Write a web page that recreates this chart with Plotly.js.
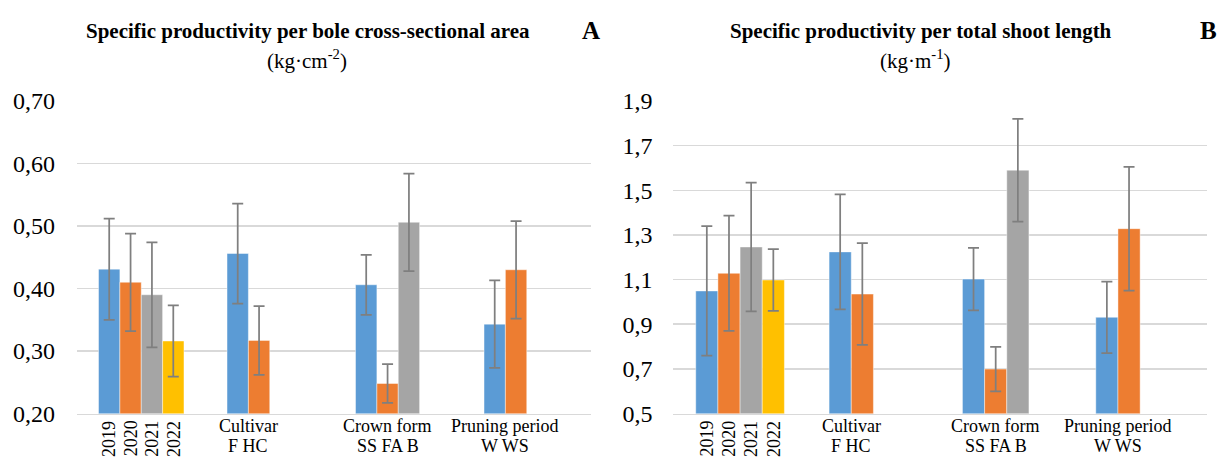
<!DOCTYPE html>
<html>
<head>
<meta charset="utf-8">
<script src="https://cdn.plot.ly/plotly-3.0.1.min.js"></script>
<style>
html,body{margin:0;padding:0;background:#fff;}
#chart{width:1217px;height:458px;}
</style>
</head>
<body>
<div id="chart"></div>
<script>
// ---- data ----
const categories = ['Year', 'Cultivar', 'Crown form', 'Pruning period'];
const yearLabels = ['2019', '2020', '2021', '2022'];
const groupLine1 = ['', 'Cultivar', 'Crown form', 'Pruning period'];
const groupLine2 = ['', 'F HC', 'SS FA B', 'W WS'];

// Panel A: specific productivity per bole cross-sectional area (kg·cm-2)
const A_s1 = [0.431, 0.456, 0.406, 0.343];
const A_s2 = [0.410, 0.317, 0.248, 0.430];
const A_s3 = [0.390, null, 0.506, null];
const A_s4 = [0.316, null, null, null];
const A_e1 = [0.081, 0.080, 0.048, 0.070];
const A_e2 = [0.078, 0.055, 0.031, 0.078];
const A_e3 = [0.084, null, 0.078, null];
const A_e4 = [0.057, null, null, null];

// Panel B: specific productivity per total shoot length (kg·m-1)
const B_s1 = [1.049, 1.224, 1.102, 0.931];
const B_s2 = [1.128, 1.035, 0.699, 1.328];
const B_s3 = [1.246, null, 1.590, null];
const B_s4 = [1.098, null, null, null];
const B_e1 = [0.290, 0.258, 0.140, 0.160];
const B_e2 = [0.258, 0.228, 0.100, 0.277];
const B_e3 = [0.288, null, 0.230, null];
const B_e4 = [0.138, null, null, null];

const colors = ['#5B9BD5', '#ED7D31', '#A5A5A5', '#FFC000'];
const FONT = 'Liberation Serif';
const BARGAP = 0.335;

function mkTraces(series, errs, xa, ya) {
  return series.map((s, k) => ({
    type: 'bar',
    x: categories,
    y: s,
    xaxis: xa, yaxis: ya,
    marker: {color: colors[k], line: {color: 'rgba(255,255,255,0.55)', width: 0.8}},
    error_y: {type: 'data', array: errs[k], visible: true, color: '#7f7f7f', thickness: 1.75, width: 5.5},
    showlegend: false,
    hoverinfo: 'y'
  }));
}

const traces = [
  ...mkTraces([A_s1, A_s2, A_s3, A_s4], [A_e1, A_e2, A_e3, A_e4], 'x', 'y'),
  ...mkTraces([B_s1, B_s2, B_s3, B_s4], [B_e1, B_e2, B_e3, B_e4], 'x2', 'y2')
];

// ---- category labels as annotations ----
const nSlots = 4;
const slotW = (1 - BARGAP) / nSlots;
function slotOffset(k) { return (k - (nSlots - 1) / 2) * slotW; }

function labelAnnotations(xref, seriesList) {
  const ann = [];
  yearLabels.forEach((t, k) => {
    ann.push({xref: xref, yref: 'paper', x: 0 + slotOffset(k), y: 0.042,
      text: t, textangle: -90, showarrow: false, xanchor: 'center', yanchor: 'middle',
      font: {family: FONT, size: 18, color: '#000'}});
  });
  for (let i = 1; i < categories.length; i++) {
    const present = [];
    seriesList.forEach((s, k) => { if (s[i] !== null) present.push(slotOffset(k)); });
    const cx = i + present.reduce((a, b) => a + b, 0) / present.length;
    ann.push({xref: xref, yref: 'paper', x: cx, y: 0.0705, text: groupLine1[i],
      showarrow: false, xanchor: 'center', yanchor: 'middle',
      font: {family: FONT, size: 18, color: '#000'}});
    ann.push({xref: xref, yref: 'paper', x: cx, y: 0.0262, text: groupLine2[i],
      showarrow: false, xanchor: 'center', yanchor: 'middle',
      font: {family: FONT, size: 18, color: '#000'}});
  }
  return ann;
}

function py(px) { return (458 - px) / 458; }

const annotations = [
  ...labelAnnotations('x', [A_s1, A_s2, A_s3, A_s4]),
  ...labelAnnotations('x2', [B_s1, B_s2, B_s3, B_s4]),
  {xref: 'paper', yref: 'paper', x: 307.5 / 1217, y: py(30.5), showarrow: false,
   text: '<b>Specific productivity per bole cross-sectional area</b>',
   font: {family: FONT, size: 21, color: '#000'}, xanchor: 'center', yanchor: 'middle'},
  {xref: 'paper', yref: 'paper', x: 306.5 / 1217, y: py(59), showarrow: false,
   text: '(kg·cm<sup>-2</sup>)',
   font: {family: FONT, size: 21, color: '#000'}, xanchor: 'center', yanchor: 'middle'},
  {xref: 'paper', yref: 'paper', x: 920.5 / 1217, y: py(30.5), showarrow: false,
   text: '<b>Specific productivity per total shoot length</b>',
   font: {family: FONT, size: 21, color: '#000'}, xanchor: 'center', yanchor: 'middle'},
  {xref: 'paper', yref: 'paper', x: 915.5 / 1217, y: py(59), showarrow: false,
   text: '(kg·m<sup>-1</sup>)',
   font: {family: FONT, size: 21, color: '#000'}, xanchor: 'center', yanchor: 'middle'},
  {xref: 'paper', yref: 'paper', x: 590.5 / 1217, y: py(31), showarrow: false,
   text: '<b>A</b>', font: {family: FONT, size: 25, color: '#000'}, xanchor: 'center', yanchor: 'middle'},
  {xref: 'paper', yref: 'paper', x: 1208 / 1217, y: py(31), showarrow: false,
   text: '<b>B</b>', font: {family: FONT, size: 25, color: '#000'}, xanchor: 'center', yanchor: 'middle'}
];

const yDomain = [(458 - 413.5) / 458, (458 - 101) / 458];
const gridColor = '#D9D9D9';

const layout = {
  width: 1217, height: 458,
  margin: {l: 0, r: 0, t: 0, b: 0},
  paper_bgcolor: '#fff', plot_bgcolor: '#fff',
  separators: ', ',
  barmode: 'group',
  bargap: BARGAP,
  bargroupgap: 0,
  font: {family: FONT, color: '#000'},
  xaxis: {domain: [77 / 1217, 591 / 1217], type: 'category', showticklabels: false,
    showline: true, linecolor: gridColor, linewidth: 1.5, showgrid: false, ticks: '', fixedrange: true},
  xaxis2: {domain: [673.4 / 1217, 1206.8 / 1217], type: 'category', showticklabels: false,
    showline: true, linecolor: gridColor, linewidth: 1.5, showgrid: false, ticks: '', fixedrange: true},
  yaxis: {domain: yDomain, range: [0.2, 0.7], tick0: 0.2, dtick: 0.1, tickformat: '.2f',
    showgrid: true, gridcolor: gridColor, gridwidth: 1.5, zeroline: false, showline: false,
    ticks: '', ticklabelstandoff: 21, tickfont: {family: FONT, size: 24, color: '#000'}},
  yaxis2: {domain: yDomain, range: [0.5, 1.9], tick0: 0.5, dtick: 0.2, tickformat: '.1f',
    anchor: 'x2',
    showgrid: true, gridcolor: gridColor, gridwidth: 1.5, zeroline: false, showline: false,
    ticks: '', ticklabelstandoff: 20, tickfont: {family: FONT, size: 24, color: '#000'}},
  annotations: annotations
};

Plotly.newPlot('chart', traces, layout, {displayModeBar: false, staticPlot: true});
</script>
</body>
</html>
